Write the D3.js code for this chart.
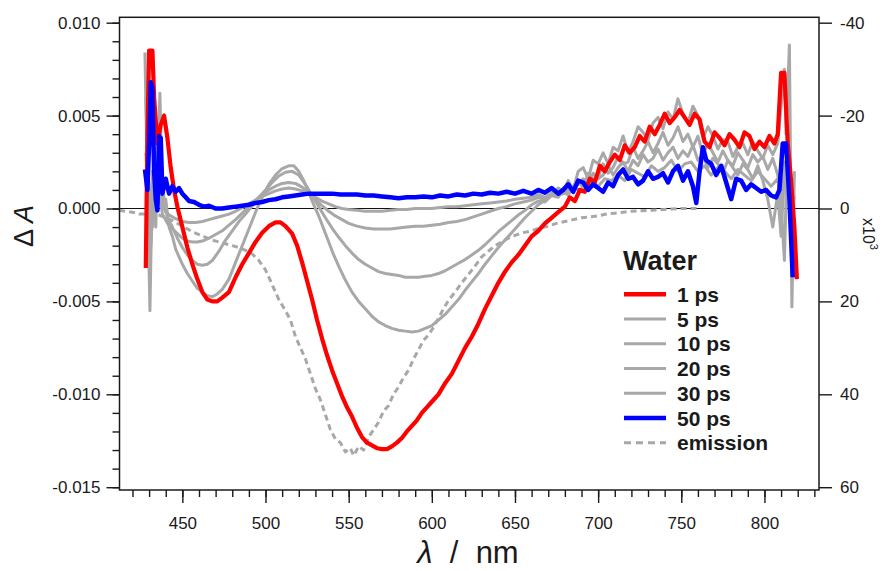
<!DOCTYPE html>
<html>
<head>
<meta charset="utf-8">
<script src="https://cdn.jsdelivr.net/npm/d3@7/dist/d3.min.js"></script>
<style>
  html, body { margin: 0; padding: 0; background: #fff; }
  svg { display: block; }
  text { font-family: "Liberation Sans", Arial, sans-serif; fill: #1a1a1a; }
</style>
</head>
<body>
<svg id="chart" width="884" height="571"></svg>
<script>
// Transient absorption spectra in water; values are ΔA × 10^-3, pairs of [wavelength nm, value]
const ps1 = [[428,-3.2],[429,4.0],[430,8.5],[432,8.5],[433,6.0],[435,3.5],[437,4.5],[439,5.0],[441,3.8],[443,2.2],[445,1.0],[447,0.1],[450,-1.0],[453,-2.1],[456,-3.0],[459,-3.8],[462,-4.5],[465,-4.9],[468,-5.0],[471,-5.0],[474,-4.8],[478,-4.5],[482,-3.7],[486,-3.0],[490,-2.4],[494,-1.8],[498,-1.3],[502,-0.95],[506,-0.75],[509,-0.75],[512,-0.95],[516,-1.35],[519,-2.0],[522,-2.9],[525,-3.9],[528,-4.9],[531,-6.0],[534,-7.0],[537,-7.9],[540,-8.7],[543,-9.4],[546,-10.1],[549,-10.7],[552,-11.2],[555,-11.8],[558,-12.3],[561,-12.6],[564,-12.75],[567,-12.9],[570,-12.95],[573,-12.95],[576,-12.8],[579,-12.6],[582,-12.35],[585,-12.0],[588,-11.7],[591,-11.4],[594,-11.0],[597,-10.7],[600,-10.4],[604,-10.0],[608,-9.4],[612,-8.9],[616,-8.2],[620,-7.5],[624,-6.9],[628,-6.2],[632,-5.4],[636,-4.7],[640,-4.0],[644,-3.4],[648,-2.9],[652,-2.5],[656,-2.0],[660,-1.5],[664,-1.2],[668,-0.8],[672,-0.5],[676,-0.2],[680,0.1],[683,0.6],[686,0.4],[689,1.0],[692,0.9],[695,1.6],[698,1.4],[701,2.3],[704,2.0],[707,2.5],[710,2.9],[713,2.6],[716,3.4],[719,3.0],[722,3.3],[725,3.9],[728,3.6],[731,4.4],[734,4.0],[737,4.5],[740,5.1],[743,4.6],[746,4.9],[749,5.3],[752,4.9],[755,4.5],[758,5.1],[761,4.8],[764,3.6],[767,3.3],[770,4.1],[773,3.8],[776,3.4],[779,4.0],[782,3.7],[785,3.3],[788,4.1],[791,3.9],[794,3.2],[797,3.6],[800,3.3],[803,3.9],[806,3.5],[808,4.0],[810,7.3],[812,7.3],[814,3.5],[816,1.5],[818,-1.0],[819.5,-3.8]];

const ps5 = [[427.5,8.4],[429,1.0],[430.5,-5.5],[432,2.0],[434,-1.0],[436.5,6.2],[438,0.0],[440,0.5],[442,-1.0],[444,-1.5],[446,-2.2],[448,-2.6],[450,-3.0],[453,-3.5],[456,-3.9],[459,-4.3],[462,-4.5],[465,-4.7],[468,-4.75],[471,-4.6],[474,-4.35],[478,-3.8],[482,-2.9],[486,-2.0],[490,-1.1],[494,-0.2],[498,0.6],[502,1.3],[506,1.8],[510,2.15],[514,2.3],[517,2.3],[520,2.0],[523,1.5],[526,0.85],[529,0.2],[532,-0.4],[535,-1.1],[538,-1.8],[541,-2.5],[544,-3.1],[548,-3.85],[552,-4.5],[556,-5.0],[560,-5.4],[564,-5.8],[568,-6.1],[572,-6.3],[576,-6.45],[580,-6.55],[584,-6.6],[588,-6.65],[592,-6.6],[596,-6.45],[600,-6.3],[604,-6.0],[608,-5.7],[612,-5.3],[616,-4.9],[620,-4.4],[624,-3.95],[628,-3.5],[632,-3.0],[636,-2.55],[640,-2.1],[644,-1.7],[648,-1.3],[652,-0.9],[656,-0.5],[660,-0.15],[664,0.2],[668,0.45],[672,0.7],[676,1.1],[679,0.9],[682,1.5],[685,1.0],[688,2.0],[691,2.2],[694,1.6],[697,2.6],[700,2.4],[703,3.0],[706,2.4],[709,3.3],[712,3.1],[715,3.9],[718,3.0],[721,3.6],[724,4.4],[727,4.1],[730,3.7],[733,4.6],[736,4.9],[739,4.3],[742,5.2],[745,4.8],[748,5.9],[751,5.1],[754,4.6],[757,5.5],[760,5.0],[763,3.8],[766,4.4],[769,3.9],[772,3.2],[775,3.7],[778,3.6],[781,2.8],[784,3.3],[787,3.5],[790,2.9],[793,3.6],[796,3.1],[799,2.7],[802,3.4],[805,2.9],[808,3.5],[810,5.5],[812,7.5],[813,4.0],[815,8.8],[816.5,-5.3],[818,2.0]];

const ps10 = [[428,6.0],[429.5,2.0],[431,-2.0],[433,1.0],[435,4.0],[437,2.5],[439,0.5],[441,-0.5],[444,-1.0],[447,-1.6],[450,-2.1],[453,-2.5],[456,-2.8],[459,-3.0],[462,-3.05],[465,-3.0],[468,-2.8],[472,-2.3],[476,-1.7],[480,-1.2],[484,-0.7],[488,-0.3],[492,0.15],[496,0.6],[500,1.0],[504,1.4],[508,1.75],[512,1.95],[516,2.0],[520,1.8],[524,1.3],[528,0.7],[532,0.1],[536,-0.5],[540,-1.05],[544,-1.55],[548,-2.0],[552,-2.4],[556,-2.75],[560,-3.0],[564,-3.2],[568,-3.4],[572,-3.5],[576,-3.55],[580,-3.6],[584,-3.7],[588,-3.7],[592,-3.7],[596,-3.65],[600,-3.6],[604,-3.5],[608,-3.35],[612,-3.15],[616,-2.95],[620,-2.75],[624,-2.5],[628,-2.25],[632,-1.95],[636,-1.6],[640,-1.25],[644,-0.95],[648,-0.65],[652,-0.35],[656,-0.1],[660,0.2],[664,0.4],[668,0.35],[672,0.7],[676,0.6],[679,1.1],[682,0.7],[685,1.2],[688,1.5],[691,1.1],[694,1.9],[697,1.6],[700,1.7],[703,2.4],[706,1.9],[709,2.2],[712,2.8],[715,2.4],[718,2.5],[721,3.3],[724,2.7],[727,3.1],[730,3.6],[733,3.0],[736,3.5],[739,4.1],[742,3.4],[745,3.8],[748,4.4],[751,3.6],[754,4.0],[757,3.3],[760,3.9],[763,2.9],[766,3.5],[769,3.0],[772,2.5],[775,3.1],[778,2.6],[781,2.3],[784,3.0],[787,2.6],[790,2.2],[793,2.9],[796,2.5],[799,2.8],[802,2.1],[805,2.7],[808,1.8],[810,0.2],[812,-2.8],[814,4.0],[816,1.5],[818,0.5]];

const ps20 = [[428,3.0],[430,0.5],[432,-1.0],[434,2.0],[436,1.0],[438,-0.3],[441,-0.8],[444,-1.1],[447,-1.35],[450,-1.6],[453,-1.75],[456,-1.8],[459,-1.8],[462,-1.75],[466,-1.6],[470,-1.4],[474,-1.2],[478,-0.9],[482,-0.6],[486,-0.25],[490,0.1],[494,0.45],[498,0.75],[502,1.0],[506,1.2],[510,1.35],[514,1.4],[518,1.35],[522,1.15],[526,0.85],[530,0.5],[534,0.15],[538,-0.15],[542,-0.4],[546,-0.6],[550,-0.8],[555,-0.95],[560,-1.05],[565,-1.1],[570,-1.1],[575,-1.1],[580,-1.05],[585,-1.0],[590,-0.95],[595,-0.95],[600,-0.9],[605,-0.85],[610,-0.75],[615,-0.7],[620,-0.6],[625,-0.45],[630,-0.3],[635,-0.15],[640,0.0],[645,0.1],[650,0.25],[655,0.35],[660,0.45],[664,0.6],[668,0.45],[672,0.85],[676,0.7],[679,0.8],[682,1.3],[685,1.0],[688,1.3],[691,1.6],[694,1.3],[697,1.9],[700,1.6],[703,1.8],[706,2.3],[709,1.8],[712,2.2],[715,2.5],[718,2.0],[721,2.6],[724,2.3],[727,2.9],[730,2.5],[733,2.7],[736,3.2],[739,2.6],[742,3.0],[745,3.3],[748,2.7],[751,3.1],[754,2.8],[757,3.4],[760,2.6],[763,2.9],[766,2.2],[769,2.7],[772,2.4],[775,1.9],[778,2.6],[781,2.2],[784,1.8],[787,2.4],[790,2.1],[793,1.6],[796,2.3],[799,1.5],[802,0.5],[805,-1.0],[808,0.8],[810,-1.5],[812,2.0],[814,1.2],[816,0.8]];

const ps30 = [[428,2.0],[430,0.0],[432,1.5],[434,0.2],[437,0.5],[440,-0.2],[443,-0.4],[446,-0.55],[450,-0.7],[454,-0.75],[458,-0.75],[462,-0.7],[466,-0.6],[470,-0.5],[474,-0.4],[478,-0.3],[482,-0.15],[486,0.05],[490,0.25],[494,0.45],[498,0.65],[502,0.8],[506,0.95],[510,1.05],[514,1.1],[518,1.05],[522,0.95],[526,0.8],[530,0.6],[534,0.4],[538,0.25],[542,0.1],[546,0.0],[550,-0.05],[555,-0.1],[560,-0.15],[565,-0.15],[570,-0.15],[575,-0.1],[580,-0.05],[585,-0.05],[590,0.0],[595,0.0],[600,0.0],[605,0.05],[610,0.1],[615,0.1],[620,0.15],[625,0.2],[630,0.25],[635,0.3],[640,0.35],[645,0.4],[650,0.5],[655,0.55],[660,0.6],[664,0.75],[668,0.6],[672,0.8],[676,0.95],[680,0.8],[684,1.2],[688,1.0],[692,1.1],[696,1.5],[700,1.2],[704,1.6],[708,1.5],[712,1.8],[716,1.5],[720,2.1],[724,1.9],[728,1.7],[732,2.3],[736,2.0],[740,2.2],[744,2.6],[748,2.0],[752,2.4],[756,2.5],[760,2.0],[764,2.3],[768,1.8],[772,2.2],[776,2.0],[780,1.6],[784,2.1],[788,1.8],[792,1.5],[796,2.0],[800,1.6],[804,1.2],[808,1.6],[810,0.5],[812,2.5],[814,1.0]];

const ps50 = [[427.5,2.1],[429,1.0],[430,3.5],[431,6.8],[432,6.5],[433,2.0],[434,0.5],[435,-0.1],[436,3.9],[437,3.8],[438,0.8],[440,1.6],[442,0.8],[444,1.2],[446,0.9],[448,1.1],[450,0.8],[452,0.6],[454,0.4],[457,0.35],[460,0.2],[463,0.1],[466,0.15],[470,0.0],[474,0.0],[478,0.05],[482,0.1],[486,0.15],[490,0.2],[494,0.3],[498,0.35],[502,0.45],[506,0.5],[510,0.6],[514,0.65],[518,0.7],[522,0.75],[526,0.8],[530,0.8],[535,0.8],[540,0.8],[545,0.75],[550,0.75],[555,0.75],[560,0.7],[565,0.7],[570,0.65],[575,0.6],[580,0.55],[585,0.6],[590,0.6],[595,0.65],[600,0.6],[605,0.7],[610,0.65],[615,0.75],[620,0.7],[625,0.8],[630,0.75],[635,0.85],[640,0.8],[645,0.9],[650,0.8],[655,0.95],[660,0.8],[664,1.0],[668,0.85],[672,1.1],[676,0.8],[679,1.0],[682,1.3],[685,0.9],[688,1.5],[691,1.4],[694,1.0],[697,1.3],[700,1.1],[703,0.9],[706,1.4],[709,1.2],[712,1.8],[715,2.1],[718,1.6],[721,1.7],[724,1.3],[727,1.5],[730,2.0],[733,1.6],[736,1.7],[739,1.9],[742,1.4],[745,2.0],[748,2.3],[751,1.5],[754,2.0],[757,1.2],[759,0.3],[761,2.0],[763,3.3],[765,2.6],[768,2.4],[771,1.8],[774,2.3],[777,1.4],[780,0.5],[783,1.6],[786,1.5],[789,1.0],[792,1.3],[795,1.1],[798,0.9],[801,1.0],[804,0.7],[807,0.6],[809,1.0],[811,3.5],[813,3.5],[815,0.5],[817,-3.7]];

const emission = [[412,-0.1],[416,-0.15],[420,-0.2],[424,-0.3],[428,-0.3],[432,-0.25],[436,-0.35],[440,-0.5],[444,-0.65],[448,-0.85],[452,-1.05],[456,-1.25],[460,-1.4],[464,-1.55],[468,-1.7],[472,-1.8],[476,-1.9],[480,-2.0],[484,-2.1],[488,-2.25],[492,-2.45],[496,-2.8],[500,-3.3],[504,-4.1],[508,-4.9],[512,-5.5],[515,-6.0],[518,-6.9],[521,-7.5],[524,-8.1],[527,-8.9],[530,-9.7],[533,-10.3],[536,-11.1],[539,-11.9],[542,-12.4],[545,-12.6],[548,-13.1],[551,-12.9],[553,-13.3],[556,-12.8],[559,-13.0],[562,-12.3],[565,-11.9],[568,-11.5],[571,-10.9],[574,-10.6],[577,-10.0],[580,-9.6],[583,-9.1],[586,-8.7],[589,-8.1],[592,-7.6],[595,-7.1],[598,-6.8],[601,-6.4],[604,-5.9],[607,-5.4],[610,-4.95],[614,-4.5],[618,-4.0],[622,-3.55],[626,-3.1],[630,-2.6],[634,-2.3],[638,-2.0],[642,-1.8],[646,-1.6],[650,-1.45],[655,-1.3],[660,-1.2],[665,-1.05],[670,-0.95],[675,-0.8],[680,-0.7],[685,-0.6],[690,-0.5],[695,-0.45],[700,-0.4],[705,-0.3],[710,-0.25],[715,-0.2],[720,-0.15],[730,-0.1],[740,-0.05],[750,0.0],[760,0.0]];

const legendTitle = "Water";
const legendLabels = ["1 ps", "5 ps", "10 ps", "20 ps", "30 ps", "50 ps", "emission"];

const xMajorTicks = [450, 500, 550, 600, 650, 700, 750, 800];
const xMinorTicks = d3.range(420, 831, 10);
const yMajorTicks = [-0.015, -0.010, -0.005, 0.000, 0.005, 0.010];
const yMinorTicks = d3.range(-15, 11, 1).map(v => v / 1000);
const y2Ticks = [-40, -20, 0, 20, 40, 60];

const RED = "#ff0000", BLUE = "#0000ff", GRAY = "#a8a8a8";

const svg = d3.select("#chart");

const plot = { left: 119.5, right: 819, top: 17.3, bottom: 490 };

const x = d3.scaleLinear().domain([412.2, 832.8]).range([plot.left, plot.right]);
const y = d3.scaleLinear().domain([-0.01515, 0.01029]).range([plot.bottom, plot.top]);
// right-hand axis: -ΔA on a ×10^3 scale, sharing the same pixel range
const y2 = d3.scaleLinear().domain([60.6, -41.16]).range([plot.bottom, plot.top]);

svg.append("defs").append("clipPath").attr("id", "plotclip")
  .append("rect").attr("x", plot.left).attr("y", plot.top)
  .attr("width", plot.right - plot.left).attr("height", plot.bottom - plot.top);

// zero line
svg.append("line")
  .attr("x1", plot.left).attr("x2", plot.right)
  .attr("y1", y(0)).attr("y2", y(0))
  .attr("stroke", "#111").attr("stroke-width", 1.2);

const line = d3.line().x(d => x(d[0])).y(d => y(d[1] / 1000));

const traces = svg.append("g").attr("clip-path", "url(#plotclip)");

const series = [
  { data: emission, color: GRAY, width: 3, dash: "6,4" },
  { data: ps30, color: GRAY, width: 3 },
  { data: ps20, color: GRAY, width: 3 },
  { data: ps10, color: GRAY, width: 3 },
  { data: ps5, color: GRAY, width: 3 },
  { data: ps1, color: RED, width: 4.2 },
  { data: ps50, color: BLUE, width: 4.5 }
];

series.forEach(s => {
  traces.append("path")
    .datum(s.data)
    .attr("d", line)
    .attr("fill", "none")
    .attr("stroke", s.color)
    .attr("stroke-width", s.width)
    .attr("stroke-linejoin", "round")
    .attr("stroke-dasharray", s.dash || null);
});

// axes
function styleAxis(g) {
  g.select(".domain").remove();
  g.selectAll(".tick line").attr("stroke", "#1a1a1a").attr("stroke-width", 1.4);
  g.selectAll(".tick text").attr("font-size", 17).attr("fill", "#1a1a1a")
    .attr("font-family", '"Liberation Sans", Arial, sans-serif');
}

svg.append("g").attr("transform", `translate(0,${plot.bottom})`)
  .call(d3.axisBottom(x).tickValues(xMinorTicks).tickSize(7).tickFormat(""))
  .call(styleAxis);
svg.append("g").attr("transform", `translate(0,${plot.bottom})`)
  .call(d3.axisBottom(x).tickValues(xMajorTicks).tickSize(13).tickPadding(14).tickFormat(d3.format("d")))
  .call(styleAxis);

svg.append("g").attr("transform", `translate(${plot.left},0)`)
  .call(d3.axisLeft(y).tickValues(yMinorTicks).tickSize(7).tickFormat(""))
  .call(styleAxis);
svg.append("g").attr("transform", `translate(${plot.left},0)`)
  .call(d3.axisLeft(y).tickValues(yMajorTicks).tickSize(13).tickPadding(6).tickFormat(d => d.toFixed(3)))
  .call(styleAxis);

svg.append("g").attr("transform", `translate(${plot.right},0)`)
  .call(d3.axisRight(y2).tickValues(y2Ticks).tickSize(13).tickPadding(8).tickFormat(d => String(d)))
  .call(styleAxis);

// frame
svg.append("rect")
  .attr("x", plot.left).attr("y", plot.top)
  .attr("width", plot.right - plot.left).attr("height", plot.bottom - plot.top)
  .attr("fill", "none").attr("stroke", "#1a1a1a").attr("stroke-width", 1.5);

// axis titles
const yTitle = svg.append("text")
  .attr("transform", "translate(33,226) rotate(-90)")
  .attr("text-anchor", "middle")
  .attr("font-size", 27);
yTitle.append("tspan").text("Δ ");
yTitle.append("tspan").attr("font-style", "italic").text("A");

const xTitle = svg.append("text")
  .attr("x", 468).attr("y", 563)
  .attr("text-anchor", "middle")
  .attr("font-size", 31)
  .style("white-space", "pre");
xTitle.append("tspan").attr("font-style", "italic").text("λ");
xTitle.append("tspan").text("  /  nm");

const y2Title = svg.append("text")
  .attr("transform", "translate(863,218) rotate(90)")
  .attr("font-size", 16);
y2Title.append("tspan").text("x10");
y2Title.append("tspan").attr("font-size", 11).attr("dy", -7).text("3");

// legend
const legend = svg.append("g");
legend.append("text")
  .attr("x", 623).attr("y", 270)
  .attr("font-size", 27).attr("font-weight", "bold")
  .text(legendTitle);

const legendStyles = [
  { color: RED, width: 4.5 },
  { color: GRAY, width: 3 },
  { color: GRAY, width: 3 },
  { color: GRAY, width: 3 },
  { color: GRAY, width: 3 },
  { color: BLUE, width: 4.5 },
  { color: GRAY, width: 3, dash: "7,5" }
];

legendLabels.forEach((label, i) => {
  const cy = 294.3 + i * 24.75;
  const st = legendStyles[i];
  legend.append("line")
    .attr("x1", 624).attr("x2", 666)
    .attr("y1", cy).attr("y2", cy)
    .attr("stroke", st.color).attr("stroke-width", st.width)
    .attr("stroke-dasharray", st.dash || null);
  legend.append("text")
    .attr("x", 677).attr("y", cy + 7.5)
    .attr("font-size", 21).attr("font-weight", "bold")
    .text(label);
});
</script>
</body>
</html>
